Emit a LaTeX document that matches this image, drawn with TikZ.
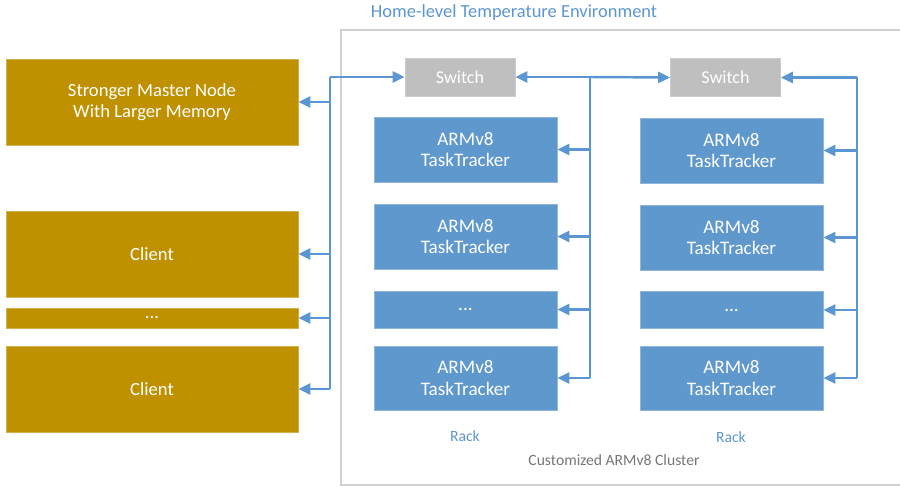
\documentclass[tikz,border=0pt]{standalone}
\usepackage{fontspec}
\setmainfont{Carlito}
\usepackage{tikz}
\usetikzlibrary{arrows.meta,positioning,calc}
\definecolor{mastercol}{RGB}{191,144,0}
\definecolor{trackercol}{RGB}{95,152,204}
\definecolor{switchcol}{RGB}{191,191,191}
\definecolor{linkcol}{RGB}{91,150,210}
\definecolor{envcol}{RGB}{208,208,208}
\definecolor{notecol}{RGB}{118,118,118}

\begin{document}
\begin{tikzpicture}[
    gold/.style={fill=mastercol, draw=mastercol!70!white, minimum width=5.84cm, text=white, align=center, font=\fontsize{10.6}{11.9}\selectfont},
    tracker/.style={fill=trackercol, draw=trackercol!70!white, minimum width=3.66cm, text=white, align=center, font=\fontsize{10.9}{12}\selectfont},
    switchbox/.style={fill=switchcol, draw=switchcol!80!white, minimum width=2.2cm, minimum height=0.76cm, text=white, font=\fontsize{10.3}{12}\selectfont},
    bus/.style={draw=linkcol, line width=1.4pt},
    link/.style={bus, -{Triangle[length=0.24cm, width=0.22cm]}},
    caption/.style={font=\fontsize{8.9}{10}\selectfont},
]
\useasboundingbox (0,0) rectangle (18,9.72);
\draw[envcol, line width=0.6pt] (18.3,9.12) -- (6.82,9.12) -- (6.82,0.02) -- (18.3,0.02);
\node[text=linkcol, font=\fontsize{10.5}{12}\selectfont] (envlbl) at (10.28,9.46) {Home-level Temperature Environment};

\node[gold, minimum height=1.72cm] (master) at (3.04,7.68) {Stronger Master Node\\With Larger Memory};
\node[gold, minimum height=1.72cm] (client1) at (3.04,4.64) {Client};
\node[gold, minimum height=0.4cm, inner sep=0pt] (cdots) at (3.04,3.36) {...};
\node[gold, minimum height=1.72cm] (client2) at (3.04,1.94) {Client};

\node[switchbox] (sw1) at (9.2,8.18) {Switch};
\node[switchbox] (sw2) at (14.51,8.17) {Switch};

\node[tracker, minimum height=1.3cm] (ta1) at (9.31,6.73) {ARMv8\\TaskTracker};
\node[tracker, minimum height=1.3cm] (ta2) at (9.31,4.99) {ARMv8\\TaskTracker};
\node[tracker, minimum height=0.74cm] (ta3) at (9.31,3.53) {...};
\node[tracker, minimum height=1.28cm] (ta4) at (9.31,2.16) {ARMv8\\TaskTracker};

\node[tracker, minimum height=1.3cm] (tb1) at (14.63,6.71) {ARMv8\\TaskTracker};
\node[tracker, minimum height=1.3cm] (tb2) at (14.63,4.97) {ARMv8\\TaskTracker};
\node[tracker, minimum height=0.74cm] (tb3) at (14.63,3.52) {...};
\node[tracker, minimum height=1.28cm] (tb4) at (14.63,2.16) {ARMv8\\TaskTracker};

\node[caption, text=linkcol] (racka) at (9.3,1.0) {Rack};
\node[caption, text=linkcol] (rackb) at (14.62,0.98) {Rack};
\node[caption, text=notecol] (cluster) at (12.28,0.52) {Customized ARMv8 Cluster};

\coordinate (lbtop) at (6.6,8.18);
\coordinate (lbbot) at (6.6,1.94);
\coordinate (abtop) at (11.8,8.18);
\coordinate (abbot) at (11.8,2.16);
\coordinate (bbtop) at (17.14,8.17);
\coordinate (bbbot) at (17.14,2.16);

\draw[bus] (lbtop) -- (lbbot);
\draw[link] (lbtop) -- (sw1.west);
\draw[link] (lbtop |- master.east) -- (master.east);
\draw[link] (lbtop |- client1.east) -- (client1.east);
\draw[link] (lbtop |- cdots.east) -- (cdots.east);
\draw[link] (lbtop |- client2.east) -- (client2.east);

\draw[bus] (abtop) -- (abbot);
\draw[link] (abtop) -- (sw1.east);
\draw[link] (abtop) -- (sw2.west);
\draw[link] (abtop |- ta1.east) -- (ta1.east);
\draw[link] (abtop |- ta2.east) -- (ta2.east);
\draw[link] (abtop |- ta3.east) -- (ta3.east);
\draw[link] (abtop |- ta4.east) -- (ta4.east);

\draw[bus] (bbtop) -- (bbbot);
\draw[link] (bbtop) -- (sw2.east);
\draw[link] (bbtop |- tb1.east) -- (tb1.east);
\draw[link] (bbtop |- tb2.east) -- (tb2.east);
\draw[link] (bbtop |- tb3.east) -- (tb3.east);
\draw[link] (bbtop |- tb4.east) -- (tb4.east);
\end{tikzpicture}
\end{document}
